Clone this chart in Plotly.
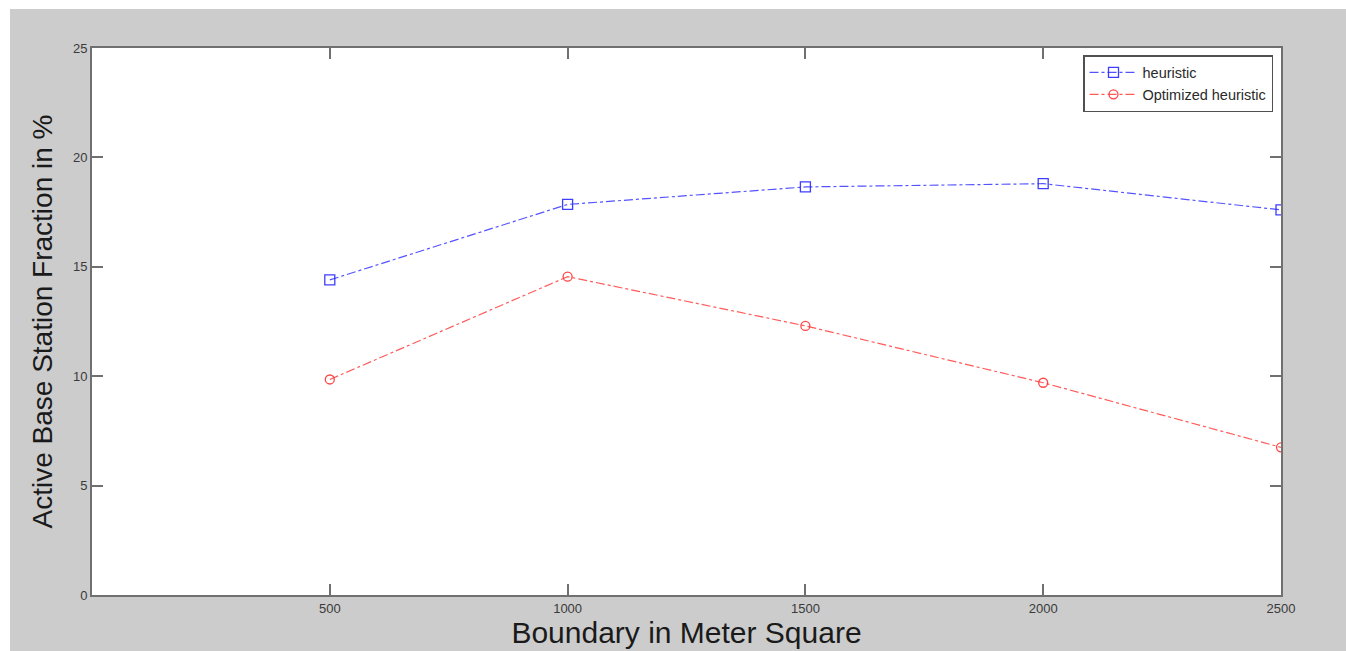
import plotly.graph_objects as go

boundary = [500, 1000, 1500, 2000, 2500]
heuristic = [14.4, 17.85, 18.65, 18.8, 17.6]
optimized = [9.85, 14.55, 12.3, 9.7, 6.75]
x_ticks = [500, 1000, 1500, 2000, 2500]
y_ticks = [0, 5, 10, 15, 20, 25]

W, H = 1346, 651
ML, MR, MT, MB = 92, 65, 48, 56
pw, ph = W - ML - MR, H - MT - MB
FONT = "Liberation Sans, Arial, sans-serif"

fig = go.Figure()
fig.add_trace(go.Scatter(
    x=boundary, y=heuristic, name="heuristic", mode="lines+markers",
    line=dict(color="rgba(40,40,255,0.8)", width=1.2, dash="dashdot"),
    marker=dict(symbol="square-open", size=10, color="rgba(40,40,255,0.9)", line=dict(width=1.3)),
))
fig.add_trace(go.Scatter(
    x=boundary, y=optimized, name="Optimized heuristic", mode="lines+markers",
    line=dict(color="rgba(255,50,50,0.8)", width=1.2, dash="dashdot"),
    marker=dict(symbol="circle-open", size=9, color="rgba(255,50,50,0.9)", line=dict(width=1.3)),
))

# white strips at top and left of the figure
fig.add_shape(type="rect", xref="paper", yref="paper", layer="below",
              x0=-ML / pw, x1=1 + MR / pw, y0=(ph + MT - 9) / ph, y1=(ph + MT) / ph,
              fillcolor="white", line=dict(width=0))
fig.add_shape(type="rect", xref="paper", yref="paper", layer="below",
              x0=-ML / pw, x1=(10 - ML) / pw, y0=-MB / ph, y1=(ph + MT) / ph,
              fillcolor="white", line=dict(width=0))

axis_common = dict(
    showgrid=False, zeroline=False, showline=True, mirror="ticks",
    linecolor="#707070", linewidth=2, ticks="inside", ticklen=11,
    tickcolor="#707070", tickwidth=1.5,
    tickfont=dict(family=FONT, size=13, color="#3a3a3a"),
)

fig.update_layout(
    width=W, height=H,
    margin=dict(l=ML, r=MR, t=MT, b=MB),
    paper_bgcolor="#cccccc", plot_bgcolor="white",
    xaxis=dict(range=[0, 2500], tickvals=x_ticks, ticktext=[str(v) for v in x_ticks],
               title=dict(text="Boundary in Meter Square", standoff=3,
                          font=dict(family=FONT, size=30, color="#1a1a1a")),
               **axis_common),
    yaxis=dict(range=[0, 25], tickvals=y_ticks, ticktext=[str(v) for v in y_ticks],
               title=dict(text="Active Base Station Fraction in %", standoff=12,
                          font=dict(family=FONT, size=28, color="#1a1a1a")),
               **axis_common),
    showlegend=True,
    legend=dict(x=(1273 - ML) / pw, y=(595 - 55) / ph, xanchor="right", yanchor="top",
                bgcolor="white", bordercolor="#505050", borderwidth=1.5,
                font=dict(family=FONT, size=14.5, color="#2a2a2a"),
                tracegroupgap=0, itemwidth=48),
)

fig.write_html("out.html")
